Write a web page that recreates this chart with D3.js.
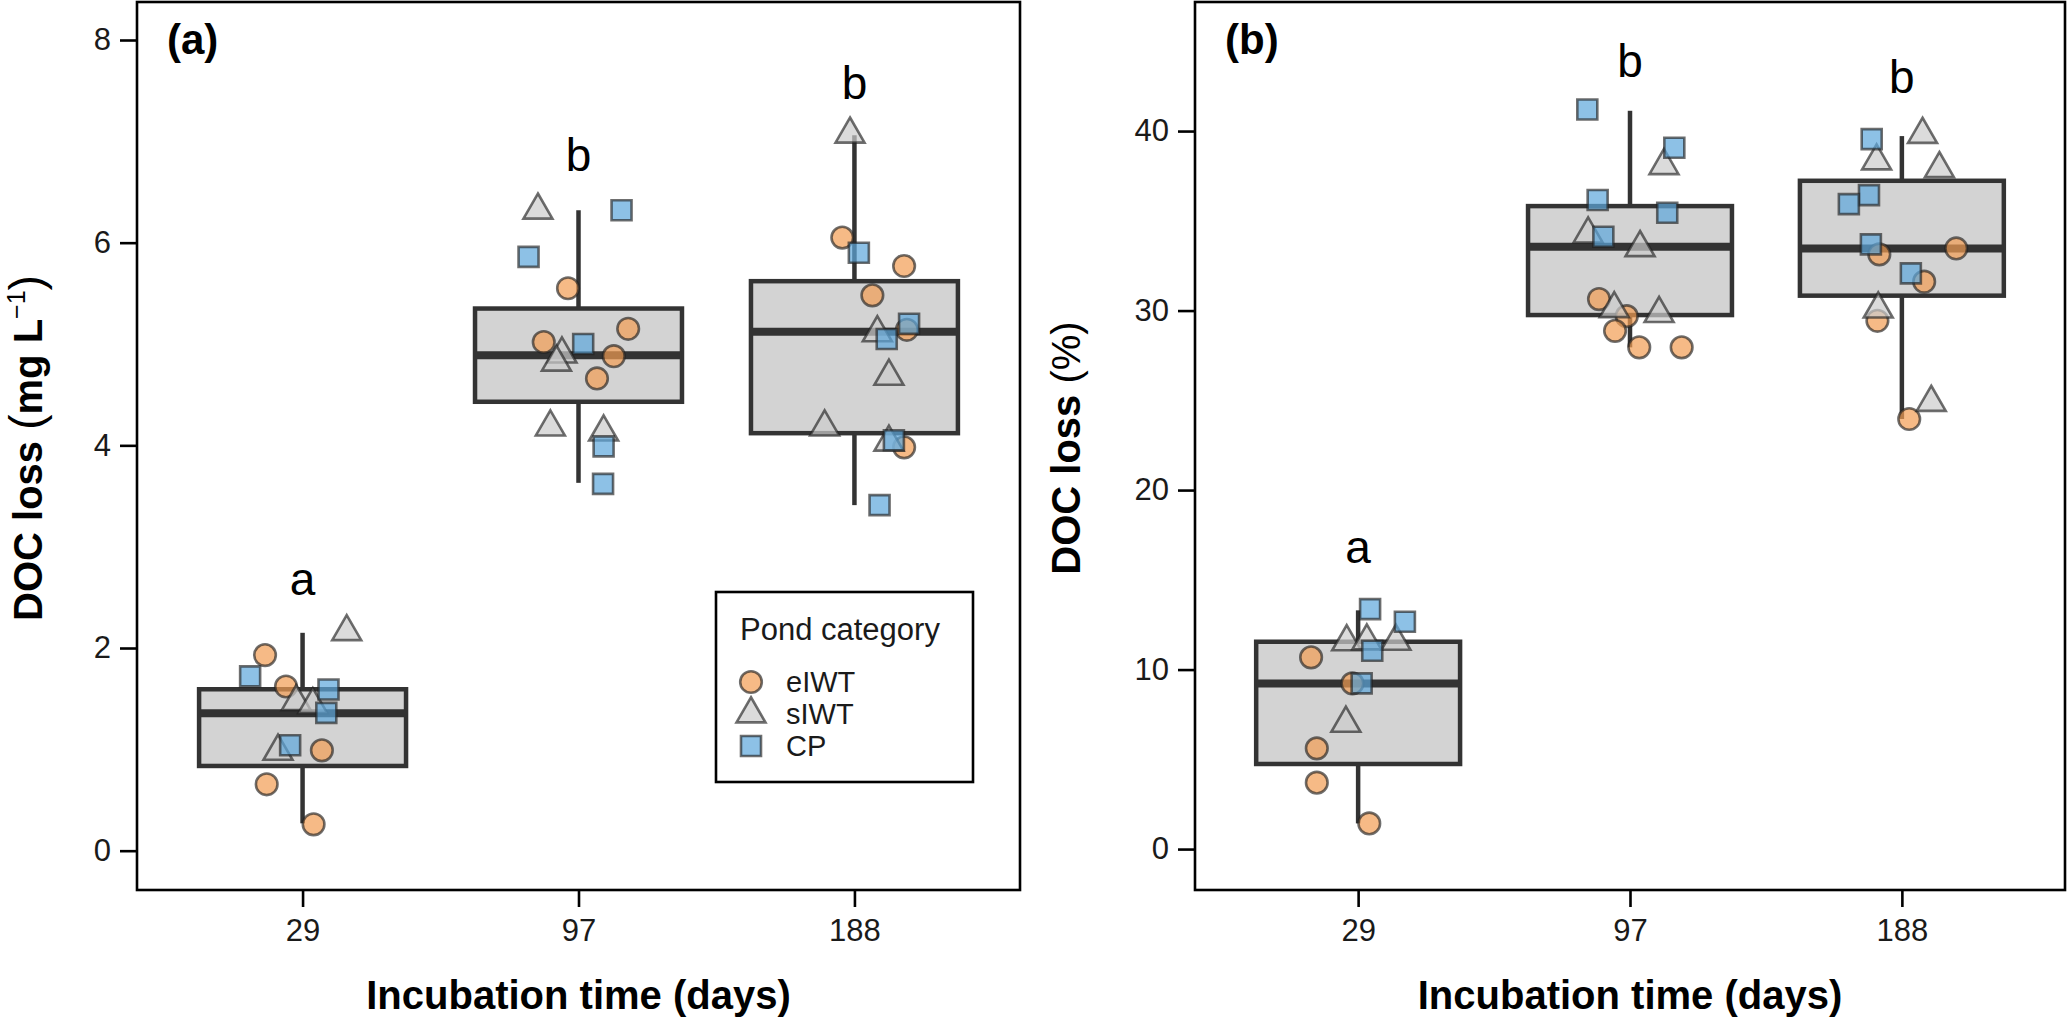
<!DOCTYPE html>
<html>
<head>
<meta charset="utf-8">
<script src="https://cdn.jsdelivr.net/npm/d3@7"></script>
<style>
  body { margin: 0; background: #fff; }
  svg { display: block; font-family: "Liberation Sans", Arial, sans-serif; }
</style>
</head>
<body>
<svg id="chart" width="2067" height="1020"></svg>
<script>
// categories
let days = ['29', '97', '188']
let groups = ['eIWT', 'sIWT', 'CP']

// panel (a) DOC loss, mg/L, one inner array per incubation day
let mgEIWT = [[1.93, 1.62, 0.99, 0.655, 0.26], [5.55, 5.15, 5.02, 4.88, 4.66], [6.05, 5.77, 5.48, 5.14, 3.98]]
let mgSIWT = [[2.16, 1.47, 1.44, 0.98], [6.32, 4.90, 4.82, 4.18, 4.13], [7.07, 5.11, 4.68, 4.18, 4.03]]
let mgCP = [[1.72, 1.59, 1.36, 1.04], [6.32, 5.86, 5.00, 3.99, 3.62], [5.90, 5.20, 5.05, 4.05, 3.41]]
// horizontal jitter (fraction of category step)
let mgEIWTJit = [[-0.136, -0.06, 0.07, -0.13, 0.04], [-0.038, 0.18, -0.126, 0.128, 0.067], [-0.044, 0.18, 0.065, 0.19, 0.18]]
let mgSIWTJit = [[0.16, -0.023, 0.037, -0.089], [-0.147, -0.06, -0.08, -0.102, 0.091], [-0.016, 0.083, 0.125, -0.108, 0.125]]
let mgCPJit = [[-0.19, 0.094, 0.086, -0.045], [0.156, -0.181, 0.017, 0.091, 0.089], [0.016, 0.198, 0.117, 0.143, 0.091]]
// box stats: [lower whisker, q1, median, q3, upper whisker]
let mgBox = [[0.27, 0.836, 1.356, 1.593, 2.15], [3.63, 4.43, 4.89, 5.35, 6.32], [3.41, 4.12, 5.12, 5.62, 7.06]]
let mgLetters = ['a', 'b', 'b']
let mgLetterY = [2.52, 6.71, 7.42]
let mgTicks = [0, 2, 4, 6, 8]

// panel (b) DOC loss, %
let pctEIWT = [[10.68, 9.23, 5.61, 3.70, 1.43], [30.64, 29.69, 28.87, 27.95, 27.95], [33.46, 33.13, 31.61, 29.43, 23.96]]
let pctSIWT = [[11.54, 11.59, 11.57, 7.0], [38.07, 34.26, 33.5, 30.1, 29.83], [39.81, 38.33, 37.9, 30.08, 24.88]]
let pctCP = [[13.37, 12.66, 11.05, 9.23], [41.2, 39.07, 36.16, 35.45, 34.11], [39.55, 36.43, 35.93, 33.69, 32.07]]
let pctEIWTJit = [[-0.173, -0.021, -0.152, -0.152, 0.041], [-0.114, -0.012, -0.055, 0.034, 0.19], [0.2, -0.083, 0.082, -0.09, 0.027]]
let pctSIWTJit = [[-0.042, 0.032, 0.139, -0.045], [0.125, -0.154, 0.037, -0.058, 0.107], [0.076, -0.093, 0.138, -0.087, 0.108]]
let pctCPJit = [[0.044, 0.172, 0.052, 0.013], [-0.157, 0.163, -0.119, 0.137, -0.098], [-0.111, -0.121, -0.195, -0.114, 0.033]]
let pctBox = [[1.43, 4.74, 9.23, 11.55, 13.3], [27.95, 29.75, 33.55, 35.82, 41.13], [23.96, 30.83, 33.46, 37.23, 39.72]]
let pctLetters = ['a', 'b', 'b']
let pctLetterY = [15.93, 43.0, 42.1]
let pctTicks = [0, 10, 20, 30, 40]

let svg = d3.select('#chart')
svg.append('rect').attr('width', 2067).attr('height', 1020).attr('fill', '#fff')

let plotTop = 2
let plotBottom = 890

let symbolFor = {
    eIWT: d3.symbol().type(d3.symbolCircle).size(366)(),
    sIWT: d3.symbol().type(d3.symbolTriangle).size(364)(),
    CP: d3.symbol().type(d3.symbolSquare).size(400)()
}
let fillFor = { eIWT: '#f29d52', sIWT: '#cccccc', CP: '#5ca7dc' }

let drawPanel = (p) => {
    let g = svg.append('g')

    let x = d3.scalePoint().domain(days).range([p.left, p.right]).padding(0.6)
    let y = d3.scaleLinear().domain(p.yDomain).range([plotBottom, plotTop])
    let step = x.step()
    let boxW = step * 0.75

    // boxes
    let boxes = g.selectAll('.box')
        .data(p.box)
        .enter()
        .append('g')
        .attr('class', 'box')
        .attr('transform', (d, i) => 'translate(' + x(days[i]) + ',0)')

    boxes.append('line')
        .attr('y1', (d) => y(d[3])).attr('y2', (d) => y(d[4]))
        .attr('stroke', '#333').attr('stroke-width', 4.5)
    boxes.append('line')
        .attr('y1', (d) => y(d[1])).attr('y2', (d) => y(d[0]))
        .attr('stroke', '#333').attr('stroke-width', 4.5)
    boxes.append('rect')
        .attr('x', -boxW / 2).attr('width', boxW)
        .attr('y', (d) => y(d[3]))
        .attr('height', (d) => y(d[1]) - y(d[3]))
        .attr('fill', '#d3d3d3').attr('stroke', '#333').attr('stroke-width', 4.5)
    boxes.append('line')
        .attr('x1', -boxW / 2).attr('x2', boxW / 2)
        .attr('y1', (d) => y(d[2])).attr('y2', (d) => y(d[2]))
        .attr('stroke', '#333').attr('stroke-width', 8)

    // jittered points
    let pts = []
    p.series.forEach((s) => {
        s.vals.forEach((arr, i) => {
            arr.forEach((v, j) => {
                pts.push({ group: s.name, day: days[i], value: v, jit: s.jit[i][j] })
            })
        })
    })
    g.selectAll('.pt')
        .data(pts)
        .enter()
        .append('path')
        .attr('class', 'pt')
        .attr('d', (d) => symbolFor[d.group])
        .attr('transform', (d) => 'translate(' + (x(d.day) + d.jit * step) + ',' + y(d.value) + ')')
        .attr('fill', (d) => fillFor[d.group])
        .attr('fill-opacity', 0.7)
        .attr('stroke', '#222')
        .attr('stroke-opacity', 0.65)
        .attr('stroke-width', 2.6)

    // significance letters
    g.selectAll('.letter')
        .data(p.letters)
        .enter()
        .append('text')
        .attr('x', (d, i) => x(days[i]))
        .attr('y', (d, i) => y(p.letterY[i]))
        .attr('text-anchor', 'middle')
        .attr('font-size', 46)
        .attr('fill', '#000')
        .text((d) => d)

    // axes
    let yAxis = g.append('g')
        .attr('transform', 'translate(' + p.left + ',0)')
        .call(d3.axisLeft(y).tickValues(p.ticks).tickSize(17).tickPadding(9))
    let xAxis = g.append('g')
        .attr('transform', 'translate(0,' + plotBottom + ')')
        .call(d3.axisBottom(x).tickSize(17).tickPadding(12))
    ;[yAxis, xAxis].forEach((a) => {
        a.select('.domain').remove()
        a.selectAll('line').attr('stroke', '#000').attr('stroke-width', 2.6)
        a.selectAll('text').attr('font-size', 31).attr('fill', '#1a1a1a')
            .attr('font-family', '"Liberation Sans", Arial, sans-serif')
    })

    // panel border
    g.append('rect')
        .attr('x', p.left).attr('y', plotTop)
        .attr('width', p.right - p.left).attr('height', plotBottom - plotTop)
        .attr('fill', 'none').attr('stroke', '#000').attr('stroke-width', 2.6)

    // panel tag
    g.append('text')
        .attr('x', p.left + 30).attr('y', 54)
        .attr('font-size', 42).attr('font-weight', 'bold')
        .text(p.tag)

    // x title
    g.append('text')
        .attr('x', (p.left + p.right) / 2).attr('y', 1009)
        .attr('text-anchor', 'middle')
        .attr('font-size', 40).attr('font-weight', 'bold')
        .text('Incubation time (days)')

    // y title
    let yt = g.append('text')
        .attr('transform', 'translate(' + p.yTitleX + ',' + ((plotTop + plotBottom) / 2 + 2) + ') rotate(-90)')
        .attr('text-anchor', 'middle')
        .attr('font-size', 40)
    p.yTitle(yt)
}

drawPanel({
    left: 137, right: 1020,
    yDomain: [-0.388, 8.375],
    ticks: mgTicks,
    box: mgBox,
    letters: mgLetters, letterY: mgLetterY,
    series: [
        { name: 'eIWT', vals: mgEIWT, jit: mgEIWTJit },
        { name: 'sIWT', vals: mgSIWT, jit: mgSIWTJit },
        { name: 'CP', vals: mgCP, jit: mgCPJit }
    ],
    tag: '(a)',
    yTitleX: 42,
    yTitle: (t) => {
        t.append('tspan').attr('font-weight', 'bold').text('DOC loss ')
        t.append('tspan').attr('font-size', 46).text('(')
        t.append('tspan').attr('font-weight', 'bold').text('mg L')
        t.append('tspan').attr('font-size', 25).attr('dy', -17).text('\u22121')
        t.append('tspan').attr('font-size', 46).attr('dy', 17).text(')')
    }
})

drawPanel({
    left: 1195, right: 2065,
    yDomain: [-2.28, 47.19],
    ticks: pctTicks,
    box: pctBox,
    letters: pctLetters, letterY: pctLetterY,
    series: [
        { name: 'eIWT', vals: pctEIWT, jit: pctEIWTJit },
        { name: 'sIWT', vals: pctSIWT, jit: pctSIWTJit },
        { name: 'CP', vals: pctCP, jit: pctCPJit }
    ],
    tag: '(b)',
    yTitleX: 1080,
    yTitle: (t) => {
        t.append('tspan').attr('font-weight', 'bold').text('DOC loss ')
        t.append('tspan').text('(%)')
    }
})

// legend inside panel (a)
let legend = svg.append('g').attr('transform', 'translate(716,592)')
legend.append('rect')
    .attr('width', 257).attr('height', 190)
    .attr('fill', '#fff').attr('stroke', '#000').attr('stroke-width', 2.6)
legend.append('text')
    .attr('x', 24).attr('y', 48)
    .attr('font-size', 31).attr('fill', '#1a1a1a')
    .text('Pond category')
let items = legend.selectAll('.item')
    .data(groups)
    .enter()
    .append('g')
    .attr('class', 'item')
    .attr('transform', (d, i) => 'translate(35,' + (90 + i * 32) + ')')
items.append('path')
    .attr('d', (d) => symbolFor[d])
    .attr('fill', (d) => fillFor[d])
    .attr('fill-opacity', 0.7)
    .attr('stroke', '#222')
    .attr('stroke-opacity', 0.65)
    .attr('stroke-width', 2.6)
items.append('text')
    .attr('x', 35).attr('y', 10)
    .attr('font-size', 29).attr('fill', '#1a1a1a')
    .text((d) => d)
</script>
</body>
</html>
